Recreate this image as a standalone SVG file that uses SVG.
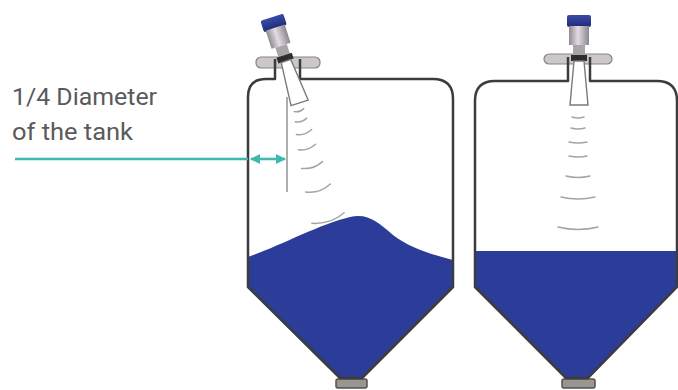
<svg xmlns="http://www.w3.org/2000/svg" width="678" height="390" viewBox="0 0 678 390">
  <defs>
    <style>
      .label { font-family: "Roboto", "Liberation Sans", sans-serif; font-size: 24px; fill: #5a5a5a; }
      .shell { fill: none; stroke: #3c3c3c; stroke-width: 2.5; stroke-linejoin: round; }
      .liquid { fill: #2b3d99; }
      .wave { fill: none; stroke: #a4a4a4; stroke-width: 1.5; stroke-linecap: round; }
      .flange { fill: #cbc7cb; stroke: #858585; stroke-width: 1.2; }
      .outlet { fill: #9a9590; stroke: #55504c; stroke-width: 1.5; }
      .horn { fill: #ffffff; stroke: #7a7a7a; stroke-width: 1.4; }
      .teal { stroke: #3fb8ad; stroke-width: 2.5; fill: none; }
    </style>
    <linearGradient id="bodyGrad" x1="0" x2="1" y1="0" y2="0">
      <stop offset="0" stop-color="#8e8a90"/>
      <stop offset="0.45" stop-color="#e4dbe3"/>
      <stop offset="1" stop-color="#8a8690"/>
    </linearGradient>
    <linearGradient id="capGrad" x1="0" x2="0" y1="0" y2="1">
      <stop offset="0" stop-color="#3a4aa8"/>
      <stop offset="1" stop-color="#1f2b78"/>
    </linearGradient>
    <marker id="tip" viewBox="0 0 10 10" refX="9" refY="5" markerWidth="4" markerHeight="4" orient="auto-start-reverse">
      <path d="M0,0 L10,5 L0,10 Z" fill="#3fb8ad"/>
    </marker>
    <!-- radar sensor, axis vertical, origin at the process connection -->
    <g id="sensor">
      <rect x="-12" y="-46" width="24" height="12" rx="2" fill="url(#capGrad)"/>
      <rect x="-10" y="-35" width="20" height="19" fill="url(#bodyGrad)"/>
      <rect x="-6" y="-16" width="12" height="10" fill="#a8a4a8"/>
      <rect x="-8" y="-6" width="16" height="6" fill="#2e2e2e"/>
      <path class="horn" d="M-5,0 L5,0 L9,44 L-9,44 Z"/>
    </g>
    <clipPath id="leftClip">
      <path d="M248,99 Q248,79 268,79 H433 Q453,79 453,99 V287 L362,378 H340 L248,287 Z"/>
    </clipPath>
    <clipPath id="rightClip">
      <path d="M475,101 Q475,81 495,81 H657 Q677,81 677,101 V287 L588,378 H566 L475,287 Z"/>
    </clipPath>
  </defs>

  <rect width="678" height="390" fill="#ffffff"/>

  <!-- label -->
  <g id="label">
    <text class="label" x="12" y="105" textLength="145" lengthAdjust="spacingAndGlyphs">1/4 Diameter</text>
    <text class="label" x="12" y="140" textLength="121" lengthAdjust="spacingAndGlyphs">of the tank</text>
  </g>

  <!-- left silo: uneven bulk surface -->
  <g id="tank-left">
    <path class="liquid" clip-path="url(#leftClip)" d="M240,257 L248,257 C275,248 320,224 350,217 C368,213 378,222 393,235 C410,248 430,254 460,262 V390 H240 Z"/>
    <rect class="outlet" x="336" y="379" width="31" height="9" rx="2"/>
    <rect class="flange" x="256" y="57" width="64" height="11" rx="5"/>
    <path class="shell" d="M275,59 V79 H266 Q248,79 248,97 V287 L340,378 H362 L453,287 V99 Q453,79 433,79 H300 V59"/>
    <line x1="287" y1="97" x2="287" y2="192" stroke="#9a9a9a" stroke-width="1.6"/>
    <g transform="translate(286,61) rotate(-18)">
      <use href="#sensor"/>
    </g>
    <g id="waves-left">
      <path class="wave" transform="translate(299,110) rotate(-18)" d="M-5,0 Q0,3 5,0"/>
      <path class="wave" transform="translate(301,120) rotate(-18)" d="M-6,0 Q0,3 6,0"/>
      <path class="wave" transform="translate(304,132) rotate(-18)" d="M-8,0 Q0,4 8,0"/>
      <path class="wave" transform="translate(307,147) rotate(-18)" d="M-9,0 Q0,4 9,0"/>
      <path class="wave" transform="translate(312,165) rotate(-18)" d="M-11,0 Q0,5 11,0"/>
      <path class="wave" transform="translate(318,188) rotate(-18)" d="M-13,0 Q0,6 13,0"/>
      <path class="wave" transform="translate(328,218) rotate(-18)" d="M-17,0 Q0,7 17,0"/>
    </g>
  </g>

  <!-- right silo: level surface -->
  <g id="tank-right">
    <rect class="liquid" clip-path="url(#rightClip)" x="470" y="251" width="215" height="140"/>
    <rect class="outlet" x="562" y="379" width="33" height="9" rx="2"/>
    <rect class="flange" x="544" y="54" width="68" height="10" rx="5"/>
    <path class="shell" d="M568,57 V81 H495 Q475,81 475,101 V287 L566,378 H588 L677,287 V101 Q677,81 657,81 H590 V57"/>
    <g transform="translate(579,61)">
      <use href="#sensor"/>
    </g>
    <g id="waves-right">
      <path class="wave" d="M572,117 Q578,119 584,117"/>
      <path class="wave" d="M571,128 Q578,130 585,128"/>
      <path class="wave" d="M569,142 Q578,144 587,142"/>
      <path class="wave" d="M569,156 Q578,158 587,156"/>
      <path class="wave" d="M566,176 Q578,179 590,176"/>
      <path class="wave" d="M561,197 Q578,201 595,197"/>
      <path class="wave" d="M558,227 Q578,232 598,227"/>
    </g>
  </g>

  <!-- dimension connector -->
  <g id="connectors">
    <line class="teal" x1="15" y1="159" x2="248" y2="159"/>
    <line class="teal" x1="251" y1="159" x2="285" y2="159" marker-start="url(#tip)" marker-end="url(#tip)"/>
  </g>
</svg>
